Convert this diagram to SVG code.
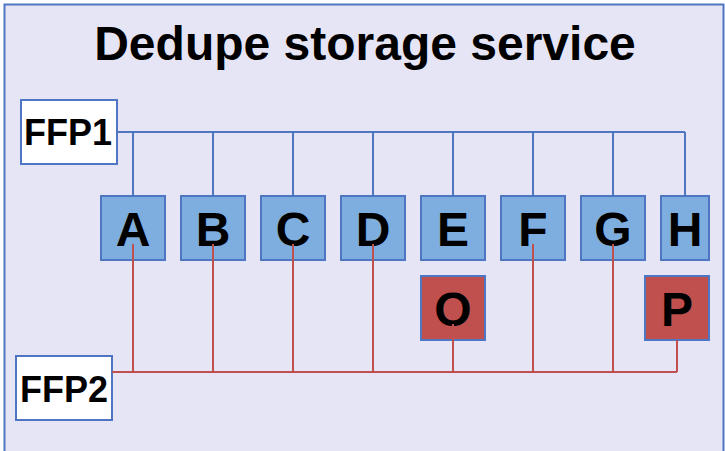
<svg xmlns="http://www.w3.org/2000/svg" width="725" height="451" viewBox="0 0 725 451">
<style>
.t{font-family:"Liberation Sans",Arial,sans-serif;font-weight:bold;fill:#000;text-anchor:middle}
.ffp{fill:#fff;stroke:#4F76C3;stroke-width:2}
.blu{fill:#7EAEDF;stroke:#4F76C3;stroke-width:2}
.red{fill:#C0504D;stroke:#4F76C3;stroke-width:2}
.bl{stroke:#4F76C3;stroke-width:2;fill:none}
.rl{stroke:#C0504D;stroke-width:2;fill:none}
.L{font-size:48px}
.F{font-size:36px}
</style>
<rect x="4.5" y="4.5" width="719" height="470" fill="#E6E5F6" stroke="#4F76C3" stroke-width="2"/>
<text class="t" x="365" y="60" style="font-size:48px">Dedupe storage service</text>
<g id="connectors">
<g class="bl">
<path d="M117 132H685M133 132V196M213 132V196M293 132V196M373 132V196M453 132V196M533 132V196M613 132V196M685 132V196"/>
</g>
</g>
<g id="FFP1"><rect class="ffp" x="21" y="100" width="96" height="64"/><text class="t F" x="68" y="145">FFP1</text></g>
<g id="FFP2"><rect class="ffp" x="16" y="356" width="96" height="64"/><text class="t F" x="64" y="402">FFP2</text></g>
<g id="A"><rect class="blu" x="101" y="196" width="64" height="64"/><text class="t L" x="133" y="246">A</text></g>
<g id="B"><rect class="blu" x="181" y="196" width="64" height="64"/><text class="t L" x="213" y="246">B</text></g>
<g id="C"><rect class="blu" x="261" y="196" width="64" height="64"/><text class="t L" x="293" y="246">C</text></g>
<g id="D"><rect class="blu" x="341" y="196" width="64" height="64"/><text class="t L" x="373" y="246">D</text></g>
<g id="E"><rect class="blu" x="421" y="196" width="64" height="64"/><text class="t L" x="453" y="246">E</text></g>
<g id="F"><rect class="blu" x="501" y="196" width="64" height="64"/><text class="t L" x="533" y="246">F</text></g>
<g id="G"><rect class="blu" x="581" y="196" width="64" height="64"/><text class="t L" x="613" y="246">G</text></g>
<g id="H"><rect class="blu" x="661" y="196" width="48" height="64"/><text class="t L" x="685" y="246">H</text></g>
<g id="O"><rect class="red" x="421" y="276" width="64" height="64"/><text class="t L" x="453" y="326">O</text></g>
<g id="P"><rect class="red" x="645" y="276" width="64" height="64"/><text class="t L" x="677" y="326">P</text></g>
<g id="connectors-ffp2" class="rl">
<path d="M112 372H677M133 244V372M213 244V372M293 244V372M373 244V372M533 244V372M613 244V372M453 324V372M677 340V372"/>
</g>
</svg>
